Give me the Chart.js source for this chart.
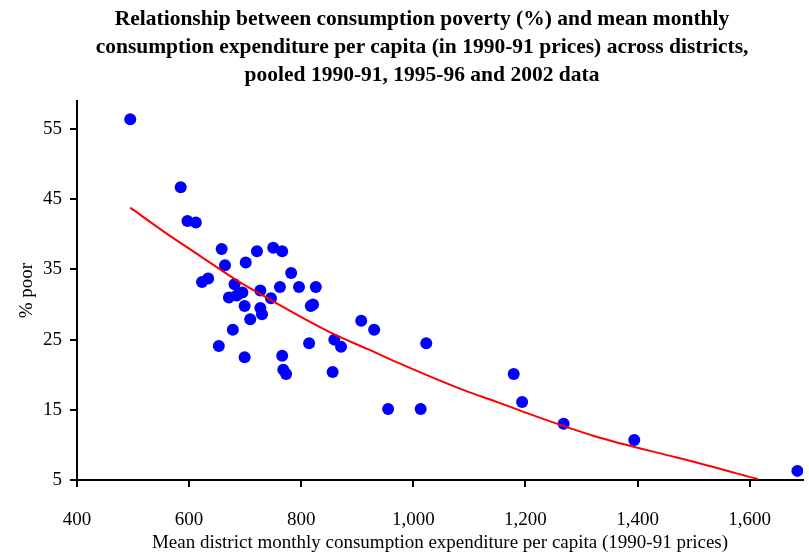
<!DOCTYPE html>
<html>
<head>
<meta charset="utf-8">
<script src="https://cdn.jsdelivr.net/npm/chart.js@4"></script>
<style>
  html, body { margin: 0; padding: 0; background: #fff; overflow: hidden; }
  #wrap { position: relative; width: 809px; height: 557px; }
  #title {
    position: absolute; left: 0; top: 4px; width: 844px;
    text-align: center; font: bold 21.5px "Liberation Serif", "Times New Roman", serif;
    line-height: 28px; color: #000;
  }
  canvas { position: absolute; left: 0; top: 0; }
</style>
</head>
<body>
<div id="wrap">
  <canvas id="povertyChart" width="809" height="557"></canvas>
  <div id="title">
    Relationship between consumption poverty (%) and mean monthly<br>
    consumption expenditure per capita (in 1990-91 prices) across districts,<br>
    pooled 1990-91, 1995-96 and 2002 data
  </div>
</div>
<script>
/* ---- data ---- */
const X_TICKS = [400, 600, 800, 1000, 1200, 1400, 1600];
const Y_TICKS = [5, 15, 25, 35, 45, 55];

// districts: mean monthly expenditure per capita / % poor
const DISTRICT_SPENDING = [
  495, 585, 597, 612, 658, 721, 750, 766, 664, 701, 782, 623, 634, 681, 762, 796,
  826, 695, 727, 671, 685, 746, 699, 727, 730, 821, 817, 907, 709, 678, 653, 814,
  859, 871, 699, 766, 768, 773, 856, 930, 1023, 1179, 1194, 955, 1013, 1268, 1394, 1685
];
const DISTRICT_POOR = [
  56.4, 46.7, 41.9, 41.7, 37.9, 37.6, 38.1, 37.6, 35.6, 36.0, 34.5, 33.2, 33.7, 32.9, 32.5, 32.5,
  32.5, 31.7, 32.0, 31.0, 31.3, 30.9, 29.8, 29.5, 28.6, 30.0, 29.8, 27.7, 27.9, 26.4, 24.1, 24.5,
  25.0, 24.0, 22.5, 22.7, 20.7, 20.1, 20.4, 26.4, 24.5, 20.1, 16.1, 15.1, 15.1, 13.0, 10.7, 6.3
];

// fitted curve
const FIT_SPENDING = [495, 560, 620, 680, 740, 800, 860, 920, 970, 1090, 1150, 1200, 1325, 1470, 1500, 1615];
const FIT_POOR     = [43.8, 40.1, 36.9, 33.7, 30.9, 28.2, 25.7, 23.6, 21.8, 17.8, 16.1, 14.6, 11.2, 8.2, 7.6, 5.1];

const SERIF = '"Liberation Serif", "Times New Roman", serif';

function toPoints(xs, ys) {
  return xs.map((x, i) => ({ x: x, y: ys[i] }));
}

document.addEventListener('DOMContentLoaded', () => {
  buildChart();
});

function buildChart() {
  const ctx = document.getElementById('povertyChart');
  if (!ctx) return;

  new Chart(ctx, {
    type: 'scatter',
    data: {
      datasets: [
        {
          label: 'Fit',
          data: toPoints(FIT_SPENDING, FIT_POOR),
          showLine: true,
          borderColor: '#ff0000',
          borderWidth: 2,
          pointRadius: 0,
          cubicInterpolationMode: 'monotone',
          fill: false,
        },
        {
          label: 'Districts',
          data: toPoints(DISTRICT_SPENDING, DISTRICT_POOR),
          backgroundColor: '#0000ff',
          borderWidth: 0,
          pointRadius: 6,
          pointHoverRadius: 6,
        },
      ],
    },
    options: {
      responsive: false,
      animation: false,
      layout: { padding: { top: 101, left: 0, right: 0, bottom: 0 } },
      plugins: {
        legend: { display: false },
        tooltip: { enabled: false },
      },
      scales: {
        x: {
          type: 'linear',
          min: 400,
          max: 1695,
          afterBuildTicks: s => { s.ticks = X_TICKS.map(v => ({ value: v })); },
          afterFit: s => { s.height = 77; },
          border: { color: '#000', width: 2 },
          grid: { drawOnChartArea: false, color: '#000', lineWidth: 2, tickLength: 7 },
          ticks: {
            color: '#000',
            padding: 22,
            maxRotation: 0,
            font: { family: SERIF, size: 19 },
            callback: v => v.toLocaleString('en-US'),
          },
          title: {
            display: true,
            text: 'Mean district monthly consumption expenditure per capita (1990-91 prices)',
            color: '#000',
            font: { family: SERIF, size: 19 },
            padding: { top: 0, bottom: 3 },
          },
        },
        y: {
          type: 'linear',
          min: 5,
          max: 59,
          afterBuildTicks: s => { s.ticks = Y_TICKS.map(v => ({ value: v })); },
          afterFit: s => { s.width = 77; },
          border: { color: '#000', width: 2 },
          grid: { drawOnChartArea: false, color: '#000', lineWidth: 2, tickLength: 7 },
          ticks: {
            color: '#000',
            padding: 8,
            font: { family: SERIF, size: 19 },
          },
          title: {
            display: true,
            text: '% poor',
            color: '#000',
            font: { family: SERIF, size: 19 },
            padding: { top: 16, bottom: 0 },
          },
        },
      },
    },
  });
}
</script>
</body>
</html>
